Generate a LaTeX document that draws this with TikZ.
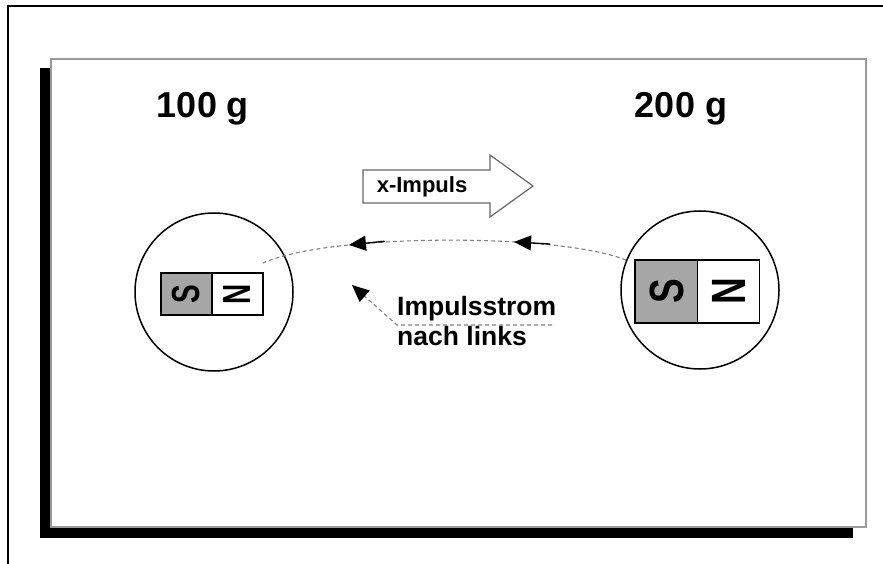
\documentclass[tikz,border=0pt]{standalone}
\usepackage{fontspec}
\usepackage{graphicx}
\setmainfont{Liberation Sans}
\usetikzlibrary{arrows.meta,decorations.markings}

\begin{document}
\begin{tikzpicture}[x=1pt,y=-1pt,
  lbl/.style={font=\bfseries\fontsize{#1}{#1}\selectfont, inner sep=0pt},
  ring/.style={circle, draw=black, line width=1.5pt, fill=white, minimum size=158pt, inner sep=0pt},
  pole/.style={draw=black, line width=1.5pt, inner sep=0pt, font=\bfseries},
  flow/.style={draw=black!50, line width=1.1pt, dash pattern=on 4pt off 3pt},
  tail/.style={draw=black, line width=1.4pt, solid}]

\useasboundingbox (0,0) rectangle (883,564);

% outer frame (top and left edges)
\draw[line width=2pt] (8,564) -- (8,6) -- (883,6);

% sheet with drop shadow
\fill[black] (40,68) rectangle (853,538);
\draw[draw=black!40, line width=2pt, fill=white] (51,59) rectangle (866,527);

% masses
\node[lbl=36, anchor=base] (mass1) at (203,118) {100 g};
\node[lbl=36, anchor=base] (mass2) at (681,118) {200 g};

% bodies
\node[ring] (m1) at (214,292) {};
\node[ring] (m2) at (700,290) {};

% small magnet
\node[pole, fill=black!35, minimum width=51pt, minimum height=42pt] (s1) at (186.5,294)
  {\fontsize{28}{28}\selectfont\rotatebox{90}{\scalebox{1}[1.4]{S}}};
\node[pole, fill=white, minimum width=51pt, minimum height=42pt] (n1) at (237.5,294)
  {\fontsize{28}{28}\selectfont\rotatebox{90}{\scalebox{1}[1.4]{N}}};

% large magnet
\node[pole, fill=black!35, minimum width=63pt, minimum height=63pt] (s2) at (666.5,291.5)
  {\fontsize{37}{37}\selectfont\rotatebox{90}{\scalebox{1}[1.3]{S}}};
\node[pole, fill=white, minimum width=62pt, minimum height=63pt] (n2) at (728.5,291.5)
  {\fontsize{37}{37}\selectfont\rotatebox{90}{\scalebox{1}[1.3]{N}}};

% momentum arrow
\draw[draw=black!60, line width=1.2pt, fill=white]
  (363,170) -- (490,170) -- (490,155) -- (533,186) -- (490,217) -- (490,203) -- (363,203) -- cycle;
\node[lbl=22, anchor=base] (xp) at (422,193) {x-Impuls};

% momentum current between the bodies
\coordinate (a2) at (263,263);
\draw[flow, postaction={decorate}, decoration={markings,
    mark=at position 0.31 with {\draw[tail] (-14pt,0) -- (-36pt,0);
      \arrow{Triangle[length=17pt,width=15pt,black]}},
    mark=at position 0.76 with {\draw[tail] (-14pt,0) -- (-36pt,0);
      \arrow{Triangle[length=17pt,width=15pt,black]}}}]
  (m2.158) .. controls (560,233) and (330,233) .. (a2);

% label and pointer
\node[lbl=26.5, anchor=base west] (cur1) at (397,315) {Impulsstrom};
\node[lbl=26.5, anchor=base west] (cur2) at (397,345) {nach links};
\coordinate (b1) at (552,325);
\coordinate (b2) at (397,325);
\coordinate (b3) at (352,285);
\draw[flow, -{Triangle[length=17pt,width=15pt,black]}] (b1) -- (b2) -- (b3);

\end{tikzpicture}
\end{document}
